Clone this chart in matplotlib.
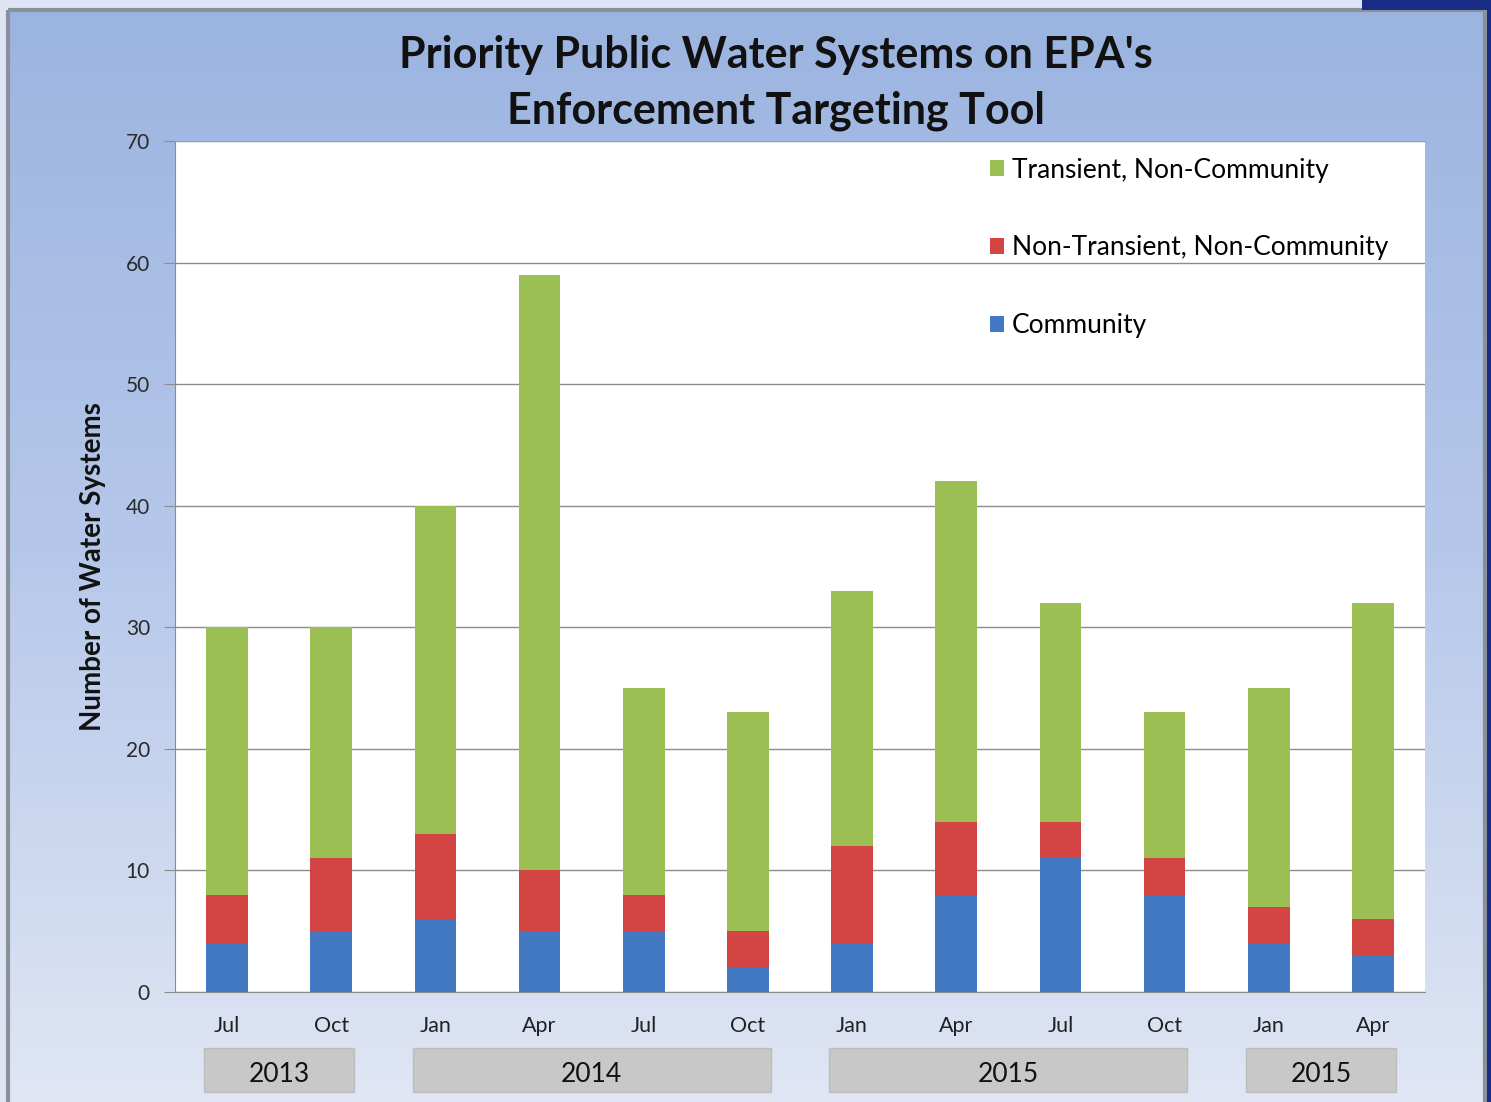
import numpy as np
import matplotlib
matplotlib.use("Agg")
import matplotlib.pyplot as plt
from matplotlib.patches import Rectangle
import matplotlib.transforms as mtransforms

# ---- data ----
quarters = ["Jul", "Oct", "Jan", "Apr", "Jul", "Oct", "Jan", "Apr", "Jul", "Oct", "Jan", "Apr"]
community = [4, 5, 6, 5, 5, 2, 4, 8, 11, 8, 4, 3]
non_transient = [4, 6, 7, 5, 3, 3, 8, 6, 3, 3, 3, 3]
transient = [22, 19, 27, 49, 17, 18, 21, 28, 18, 12, 18, 26]
year_labels = ["2013", "2014", "2015", "2015"]
year_spans = [(0, 1), (2, 5), (6, 9), (10, 11)]
yticks = [0, 10, 20, 30, 40, 50, 60, 70]

FONT = "Lato"
plt.rcParams["font.family"] = [FONT, "DejaVu Sans"]

W, H = 1491, 1102
fig = plt.figure(figsize=(W / 100, H / 100), dpi=100)
fig.patch.set_facecolor("#dfe4f4")

# background panel with vertical gradient
bg = fig.add_axes([0, 0, 1, 1], zorder=0)
bg.set_xlim(0, W)
bg.set_ylim(H, 0)
bg.axis("off")
grad = np.linspace(0, 1, 256).reshape(-1, 1)
top = np.array([0x9b, 0xb4, 0xe0]) / 255
mid = np.array([0xb6, 0xc8, 0xea]) / 255
bot = np.array([0xe0, 0xe6, 0xf4]) / 255
cols = np.where(grad[..., None] < 0.5,
                top + (mid - top) * (grad[..., None] / 0.5),
                mid + (bot - mid) * ((grad[..., None] - 0.5) / 0.5))
bg.imshow(cols, extent=(8, 1485, 1102, 10), aspect="auto", zorder=0)
bg.add_patch(Rectangle((8, 10), 1477, 1100, fill=False, edgecolor="#8a9099", linewidth=3, zorder=1))
bg.add_patch(Rectangle((1362, -5), 140, 15, facecolor="#1a2d86", edgecolor="none", zorder=2))
bg.add_patch(Rectangle((1487, -5), 10, 1120, facecolor="#1a2d86", edgecolor="none", zorder=2))

# main axes
left, right = 175 / W, 1425 / W
bottom, topp = 1 - 992 / H, 1 - 141 / H
ax = fig.add_axes([left, bottom, right - left, topp - bottom], zorder=2)
ax.set_facecolor("white")

x = np.arange(len(quarters))
bw = 0.4
c_blue, c_red, c_green = "#4279c2", "#d24543", "#9bbf55"
b1 = ax.bar(x, community, bw, color=c_blue, label="Community", zorder=3)
base2 = np.array(community)
b2 = ax.bar(x, non_transient, bw, bottom=base2, color=c_red, label="Non-Transient, Non-Community", zorder=3)
base3 = base2 + np.array(non_transient)
b3 = ax.bar(x, transient, bw, bottom=base3, color=c_green, label="Transient, Non-Community", zorder=3)

ax.set_xlim(-0.5, len(quarters) - 0.5)
ax.set_ylim(0, 70)
ax.set_yticks(yticks)
ax.yaxis.grid(True, color="#8c8c8c", linewidth=1.0, zorder=1)
ax.set_axisbelow(True)
ax.spines["right"].set_visible(False)
ax.spines["top"].set_color("#a0a0a0")
ax.spines["left"].set_color("#8c8c8c")
ax.spines["bottom"].set_color("#8c8c8c")
ax.tick_params(axis="y", labelsize=15, colors="#8c8c8c", labelcolor="#2a2a2a", length=8, pad=10)
ax.tick_params(axis="x", length=0, labelsize=15.5, labelcolor="#222222", pad=17)
ax.set_xticks(x)
ax.set_xticklabels(quarters)

ax.set_ylabel("Number of Water Systems", fontsize=20, fontweight="bold", color="#111111", labelpad=14)

# year boxes
trans = mtransforms.blended_transform_factory(ax.transData, ax.transAxes)
for lab, (a, b) in zip(year_labels, year_spans):
    x0, x1 = a - 0.22, b + 0.22
    ax.add_patch(Rectangle((x0, -0.1175), x1 - x0, 0.052, transform=trans,
                           facecolor="#c8c8c8", edgecolor="#bdbdbd", clip_on=False, zorder=2))
    ax.text((x0 + x1) / 2, -0.0975, lab, transform=trans, ha="center", va="center",
            fontsize=19, color="#111111")

# legend
handles = [b3, b2, b1]
labels = [h.get_label() for h in handles]
leg = ax.legend(handles, labels, loc="upper left", bbox_to_anchor=((979 - 175) / 1250, 1 - 6 / 851),
                frameon=False, fontsize=19, handlelength=0.55, handleheight=0.55,
                handletextpad=0.3, labelspacing=2.0, borderaxespad=0)

fig.text(776 / W, 1 - 83 / H, "Priority Public Water Systems on EPA's\nEnforcement Targeting Tool",
         ha="center", va="center", fontsize=31, fontweight="bold", color="#111111",
         linespacing=1.45)

fig.savefig("out.png", dpi=100, facecolor=fig.get_facecolor())
